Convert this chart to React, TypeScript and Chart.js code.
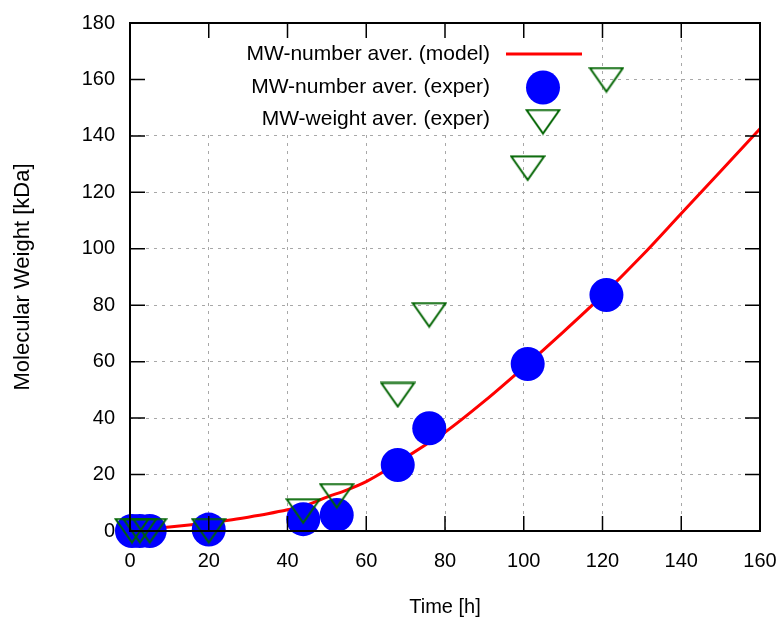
import React, { useEffect, useRef } from "react";
import { Chart, registerables } from "chart.js";

Chart.register(...registerables);

// ---- data ----
const MODEL_T = [0, 5, 10, 15, 20, 25, 30, 35, 40, 45, 50, 55, 60, 65, 70, 75, 80, 90, 100, 110, 120, 130, 140, 150, 160];
const MODEL_MW = [0.3, 0.8, 1.4, 2.1, 2.9, 3.8, 4.9, 6.1, 7.5, 9.2, 12, 14.5, 17.5, 21.5, 26, 30.5, 35, 46, 58, 70.5, 83.5, 97.5, 112.5, 127.5, 142.5];

const NUM_T = [0.5, 2.5, 5, 20, 44, 52.5, 68, 76, 101, 121];
const NUM_MW = [0, 0, 0, 0.5, 4.2, 5.7, 23.4, 36.4, 59.2, 83.6];

const WT_T = [0.5, 2.5, 5, 20, 44, 52.5, 68, 76, 101, 121];
const WT_MW = [0, 0, 0, 0, 7, 12.4, 48.2, 76.5, 128.5, 159.8];

const SERIES_LABELS = ["MW-number aver. (model)", "MW-number aver. (exper)", "MW-weight aver. (exper)"];
const X_TITLE = "Time [h]";
const Y_TITLE = "Molecular Weight [kDa]";

const FONT = "'Liberation Sans', Arial, Helvetica, sans-serif";
const RED = "#ff0000";
const BLUE = "#0000ff";
const GREEN = "#006400";

function makeTriangle(): HTMLCanvasElement {
  const c = document.createElement("canvas");
  c.width = 36;
  c.height = 27;
  const g = c.getContext("2d")!;
  g.strokeStyle = GREEN;
  g.lineWidth = 2;
  g.lineJoin = "miter";
  g.beginPath();
  g.moveTo(1.5, 1.5);
  g.lineTo(34.5, 1.5);
  g.lineTo(18, 25);
  g.closePath();
  g.stroke();
  return c;
}

export default function App() {
  const ref = useRef<HTMLCanvasElement | null>(null);

  useEffect(() => {
    if (!ref.current) return;
    const tri = makeTriangle();

    const keyPlugin = {
      id: "keyAndFrame",
      beforeDatasetsDraw(chart: any) {
        const { ctx, chartArea: a } = chart;
        ctx.save();
        ctx.fillStyle = "#ffffff";
        ctx.fillRect(a.left + 1, a.top + 1, 467, 110);
        ctx.restore();
      },
      afterDatasetsDraw(chart: any) {
        const { ctx, chartArea: a, scales } = chart;
        ctx.save();
        // legend
        const labels = chart.data.datasets.map((d: any) => d.label);
        const rows = [a.top + 31, a.top + 64.5, a.top + 96];
        ctx.font = `21px ${FONT}`;
        ctx.fillStyle = "#000";
        ctx.textAlign = "right";
        ctx.textBaseline = "middle";
        labels.forEach((l: string, i: number) => ctx.fillText(l, a.left + 360, rows[i]));
        const sx = a.left + 413;
        ctx.strokeStyle = RED;
        ctx.lineWidth = 3;
        ctx.beginPath();
        ctx.moveTo(a.left + 376, rows[0]);
        ctx.lineTo(a.left + 452, rows[0]);
        ctx.stroke();
        ctx.fillStyle = BLUE;
        ctx.beginPath();
        ctx.arc(sx, rows[1], 17, 0, Math.PI * 2);
        ctx.fill();
        ctx.drawImage(tri, sx - tri.width / 2, rows[2] + 3 - tri.height / 2);

        // inward ticks
        ctx.strokeStyle = "#000";
        ctx.lineWidth = 1.5;
        ctx.beginPath();
        scales.x.ticks.forEach((t: any) => {
          const px = scales.x.getPixelForValue(t.value);
          ctx.moveTo(px, a.bottom);
          ctx.lineTo(px, a.bottom - 15);
          ctx.moveTo(px, a.top);
          ctx.lineTo(px, a.top + 15);
        });
        scales.y.ticks.forEach((t: any) => {
          const py = scales.y.getPixelForValue(t.value);
          ctx.moveTo(a.left, py);
          ctx.lineTo(a.left + 15, py);
          ctx.moveTo(a.right, py);
          ctx.lineTo(a.right - 15, py);
        });
        ctx.stroke();
        // frame
        ctx.lineWidth = 2;
        ctx.strokeRect(a.left, a.top, a.right - a.left, a.bottom - a.top);
        ctx.restore();
      },
    };

    const chart = new Chart(ref.current, {
      type: "scatter",
      data: {
        datasets: [
          {
            label: SERIES_LABELS[0],
            data: MODEL_T.map((t, i) => ({ x: t, y: MODEL_MW[i] })),
            showLine: true,
            borderColor: RED,
            borderWidth: 3,
            pointRadius: 0,
            cubicInterpolationMode: "monotone",
            order: 3,
            clip: false,
          },
          {
            label: SERIES_LABELS[1],
            data: NUM_T.map((t, i) => ({ x: t, y: NUM_MW[i] })),
            pointStyle: "circle",
            pointRadius: 17,
            backgroundColor: BLUE,
            borderWidth: 0,
            order: 2,
            clip: false,
          },
          {
            label: SERIES_LABELS[2],
            data: WT_T.map((t, i) => ({ x: t, y: WT_MW[i] })),
            pointStyle: tri,
            pointRadius: 17,
            order: 1,
            clip: false,
          },
        ],
      } as any,
      options: {
        animation: false,
        responsive: true,
        maintainAspectRatio: false,
        layout: { padding: { top: 23, right: 18, left: 0, bottom: 0 } },
        plugins: { legend: { display: false }, tooltip: { enabled: false } },
        scales: {
          x: {
            type: "linear",
            min: 0,
            max: 160,
            ticks: { stepSize: 20, padding: 18, color: "#000", font: { family: FONT, size: 20 } },
            grid: { color: "#a8a8a8", lineWidth: 1, drawTicks: false },
            border: { display: false, dash: [3, 5] },
            title: { display: true, text: X_TITLE, color: "#000", font: { family: FONT, size: 20 }, padding: { top: 0, bottom: 2 } },
            afterFit: (s: any) => { s.height = 90; s.paddingLeft = 0; s.paddingRight = 0; },
          },
          y: {
            type: "linear",
            min: 0,
            max: 180,
            ticks: { stepSize: 20, padding: 15, color: "#000", font: { family: FONT, size: 20 } },
            grid: { color: "#a8a8a8", lineWidth: 1, drawTicks: false },
            border: { display: false, dash: [3, 5] },
            title: { display: true, text: Y_TITLE, color: "#000", font: { family: FONT, size: 22 }, padding: { top: 10, bottom: 0 } },
            afterFit: (s: any) => { s.width = 130; s.paddingTop = 0; s.paddingBottom = 0; },
          },
        },
      } as any,
      plugins: [keyPlugin],
    });
    return () => chart.destroy();
  }, []);

  return (
    <div style={{ position: "absolute", left: 0, top: 0, width: 778, height: 621, background: "#fff" }}>
      <canvas ref={ref} />
    </div>
  );
}
